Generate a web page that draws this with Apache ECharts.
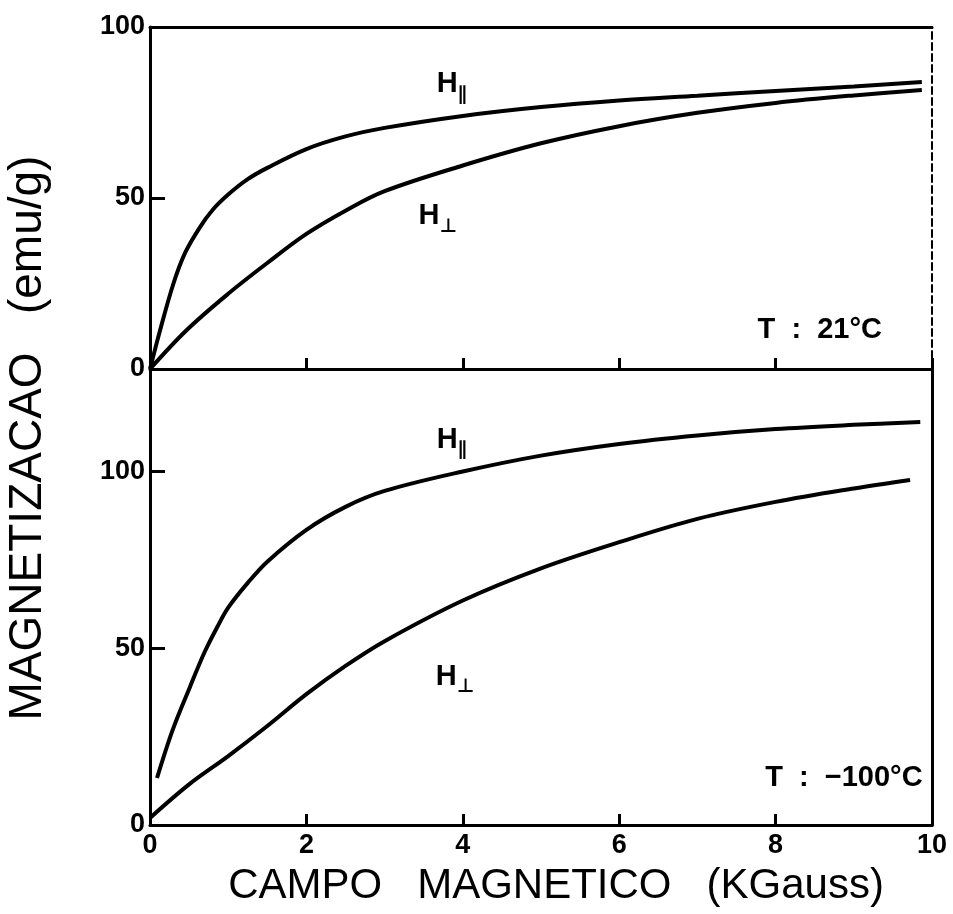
<!DOCTYPE html>
<html>
<head>
<meta charset="utf-8">
<title>Magnetizacao</title>
<script src="https://cdn.jsdelivr.net/npm/echarts@6/dist/echarts.min.js"></script>
<style>
  html, body { margin: 0; padding: 0; background: #ffffff; }
  #chart { width: 953px; height: 914px; }
</style>
</head>
<body>
<div id="chart"></div>
<script>
// Magnetization curves, T = 21 °C (upper panel)
const field21Par = [0, 0.13, 0.3, 0.45, 0.64, 0.8, 1.0, 1.25, 1.5, 2.0, 2.5, 3.0, 4.0, 5.0, 6.0, 7.0, 8.0, 9.0, 9.87];
const mag21Par   = [0, 11.4, 25, 34, 41.5, 46.5, 51, 55.5, 58.8, 64.3, 68, 70.5, 74, 76.6, 78.5, 79.9, 81.3, 82.6, 83.9];
const field21Perp = [0, 0.47, 1.0, 1.5, 2.0, 2.5, 3.0, 4.0, 5.0, 6.0, 7.0, 8.0, 9.0, 9.87];
const mag21Perp   = [0, 11.4, 22, 31, 39.5, 46.3, 52, 59.5, 66, 71, 74.9, 77.8, 80, 81.6];

// Magnetization curves, T = -100 °C (lower panel)
const field100Par = [0.09, 0.29, 0.51, 0.7, 0.86, 1.0, 1.25, 1.5, 2.0, 2.5, 3.0, 4.0, 5.0, 6.0, 7.0, 8.0, 9.0, 9.85];
const mag100Par   = [13.3, 26.9, 39, 49, 56, 61.5, 68.5, 74.5, 83.5, 90, 94.5, 100, 104.5, 107.8, 110.2, 112, 113.2, 114];
const field100Perp = [0, 0.5, 1.0, 1.5, 2.0, 2.5, 3.0, 4.0, 5.0, 6.0, 7.0, 8.0, 9.0, 9.72];
const mag100Perp   = [2, 11.5, 19.5, 28, 37, 45, 52, 63.5, 72.6, 80, 86.6, 91.4, 95.2, 97.6];

// Curve labels [field, magnetization] and texts
const labelParTop = [3.86, 83.3];
const labelPerpTop = [3.68, 44.7];
const labelParBottom = [3.86, 108.9];
const labelPerpBottom = [3.9, 41.9];
const tempTop = 'T  :  21°C';
const tempBottom = 'T  :  −100°C';
const tempTopPos = [9.36, 11.4];
const tempBottomPos = [9.88, 13.3];

const xTitle = 'CAMPO   MAGNETICO   (KGauss)';
const yTitle = 'MAGNETIZACAO   (emu/g)';

const pairs = (xs, ys) => xs.map((x, i) => [x, ys[i]]);

const tickFont = { fontFamily: 'Liberation Sans', fontWeight: 'bold', fontSize: 27, color: '#000' };

const hRich = {
  h: { fontFamily: 'Liberation Sans', fontWeight: 'bold', fontSize: 29, lineHeight: 30, color: '#000' },
  s: { fontFamily: 'DejaVu Sans', fontWeight: 'bold', fontSize: 19, lineHeight: 19, verticalAlign: 'bottom', color: '#000', padding: [0, 0, -5, 0] }
};

function curveLabel(coord, sub) {
  return {
    symbol: 'rect',
    symbolSize: 0,
    silent: true,
    label: {
      show: true,
      position: 'inside',
      formatter: '{h|H}{s|' + sub + '}',
      rich: hRich
    },
    data: [{ coord: coord }]
  };
}

function tempLabel(coord, text) {
  return {
    symbol: 'rect',
    symbolSize: 0,
    silent: true,
    label: {
      show: true,
      position: 'inside',
      align: 'right',
      verticalAlign: 'middle',
      formatter: text,
      fontFamily: 'Liberation Sans',
      fontWeight: 'bold',
      fontSize: 29,
      color: '#000'
    },
    data: [{ coord: coord }]
  };
}

const lineStyle = { color: '#000', width: 4 };

const chart = echarts.init(document.getElementById('chart'), null, { renderer: 'canvas' });

chart.setOption({
  animation: false,
  backgroundColor: '#ffffff',
  grid: [
    { left: 150, right: 21, top: 27, height: 342 },
    { left: 150, right: 21, top: 369, height: 456 }
  ],
  xAxis: [
    {
      type: 'value', gridIndex: 0, min: 0, max: 10, interval: 2,
      axisLine: { show: true, onZero: false, lineStyle: { color: '#000', width: 3 } },
      axisTick: { show: true, inside: true, length: 11, lineStyle: { color: '#000', width: 3 } },
      axisLabel: { show: false },
      splitLine: { show: false }
    },
    {
      type: 'value', gridIndex: 1, min: 0, max: 10, interval: 2,
      axisLine: { show: true, onZero: false, lineStyle: { color: '#000', width: 3 } },
      axisTick: { show: true, inside: true, length: 11, lineStyle: { color: '#000', width: 3 } },
      axisLabel: Object.assign({ show: true, margin: 7 }, tickFont),
      splitLine: { show: false }
    },
    {
      type: 'value', gridIndex: 0, min: 0, max: 10, position: 'top',
      axisLine: { show: true, onZero: false, lineStyle: { color: '#000', width: 3 } },
      axisTick: { show: false }, axisLabel: { show: false }, splitLine: { show: false }
    }
  ],
  yAxis: [
    {
      type: 'value', gridIndex: 0, min: 0, max: 100, interval: 50,
      axisLine: { show: true, onZero: false, lineStyle: { color: '#000', width: 3 } },
      axisTick: { show: true, inside: true, length: 15, lineStyle: { color: '#000', width: 3 } },
      axisLabel: Object.assign({ show: true, margin: 5 }, tickFont),
      splitLine: { show: false }
    },
    {
      type: 'value', gridIndex: 1, min: 0, max: 129, interval: 50,
      axisLine: { show: true, onZero: false, lineStyle: { color: '#000', width: 3 } },
      axisTick: { show: true, inside: true, length: 15, lineStyle: { color: '#000', width: 3 } },
      axisLabel: Object.assign({ show: true, margin: 5, showMaxLabel: false }, tickFont),
      splitLine: { show: false }
    },
    {
      type: 'value', gridIndex: 0, min: 0, max: 100, position: 'right',
      axisLine: { show: true, onZero: false, lineStyle: { color: '#000', width: 2, type: [7, 4] } },
      axisTick: { show: false }, axisLabel: { show: false }, splitLine: { show: false }
    },
    {
      type: 'value', gridIndex: 1, min: 0, max: 129, position: 'right',
      axisLine: { show: true, onZero: false, lineStyle: { color: '#000', width: 3 } },
      axisTick: { show: false }, axisLabel: { show: false }, splitLine: { show: false }
    }
  ],
  series: [
    {
      name: 'H∥ 21°C', type: 'line', xAxisIndex: 0, yAxisIndex: 0,
      data: pairs(field21Par, mag21Par), smooth: 0.35, showSymbol: false, symbol: 'none',
      lineStyle: lineStyle,
      markPoint: curveLabel(labelParTop, '∥')
    },
    {
      name: 'H⊥ 21°C', type: 'line', xAxisIndex: 0, yAxisIndex: 0,
      data: pairs(field21Perp, mag21Perp), smooth: 0.35, showSymbol: false, symbol: 'none',
      lineStyle: lineStyle,
      markPoint: curveLabel(labelPerpTop, '⊥')
    },
    {
      name: 'T 21', type: 'line', xAxisIndex: 0, yAxisIndex: 0, data: [],
      markPoint: tempLabel(tempTopPos, tempTop)
    },
    {
      name: 'H∥ -100°C', type: 'line', xAxisIndex: 1, yAxisIndex: 1,
      data: pairs(field100Par, mag100Par), smooth: 0.35, showSymbol: false, symbol: 'none',
      lineStyle: lineStyle,
      markPoint: curveLabel(labelParBottom, '∥')
    },
    {
      name: 'H⊥ -100°C', type: 'line', xAxisIndex: 1, yAxisIndex: 1,
      data: pairs(field100Perp, mag100Perp), smooth: 0.35, showSymbol: false, symbol: 'none',
      lineStyle: lineStyle,
      markPoint: curveLabel(labelPerpBottom, '⊥')
    },
    {
      name: 'T -100', type: 'line', xAxisIndex: 1, yAxisIndex: 1, data: [],
      markPoint: tempLabel(tempBottomPos, tempBottom)
    }
  ],
  graphic: [
    {
      type: 'text',
      x: 556, y: 886,
      style: {
        text: xTitle, fontFamily: 'Liberation Sans', fontSize: 42, fill: '#000',
        align: 'center', verticalAlign: 'middle'
      }
    },
    {
      type: 'text',
      x: 28, y: 438, rotation: Math.PI / 2,
      style: {
        text: yTitle, fontFamily: 'Liberation Sans', fontSize: 46, fill: '#000',
        align: 'center', verticalAlign: 'middle'
      }
    }
  ]
});
</script>
</body>
</html>
